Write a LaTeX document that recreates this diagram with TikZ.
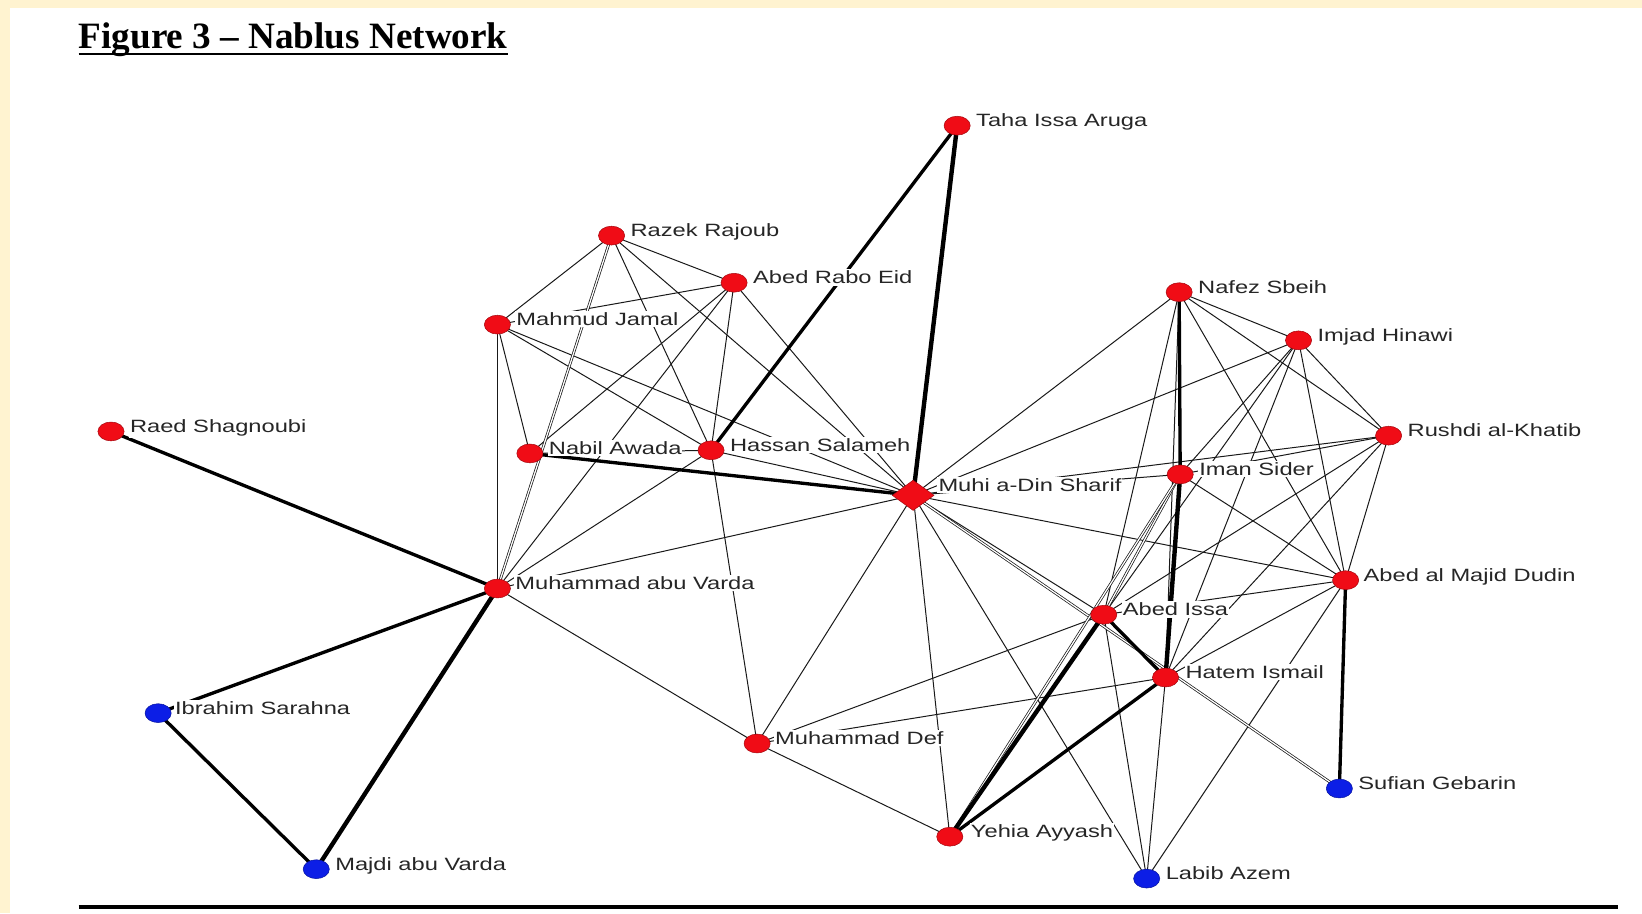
\documentclass[tikz,border=0pt]{standalone}
\usepackage{fontspec}
\setmainfont{Liberation Serif}
\newfontfamily\labfont[FakeStretch=1.33]{Liberation Sans}
\usetikzlibrary{shapes.geometric}
\pgfdeclarelayer{bglayer}
\pgfdeclarelayer{edgelayer}
\pgfsetlayers{bglayer,edgelayer,main}
\definecolor{cream}{RGB}{255,243,208}
\definecolor{nodered}{RGB}{240,12,22}
\definecolor{nodeblue}{RGB}{12,30,230}
\begin{document}
\begin{tikzpicture}[x=1pt,y=-1pt,
  rnode/.style={ellipse,fill=nodered,draw=nodered!70!black,line width=0.5pt,minimum width=25pt,minimum height=18pt,inner sep=0pt},
  bnode/.style={rnode,fill=nodeblue,draw=nodeblue!70!black},
  dnode/.style={diamond,fill=nodered,draw=nodered!70!black,line width=0.5pt,minimum width=40pt,minimum height=29pt,inner sep=0pt},
  lab/.style={anchor=base west,fill=white,inner xsep=1pt,inner ysep=1.5pt,font=\labfont\fontsize{17}{17}\selectfont,text=black!85},
  eone/.style={draw=black!90,line width=0.95pt},
  ethree/.style={draw=black,line width=3.2pt},
  efour/.style={draw=black,line width=4.2pt},
  edbl/.style={draw=black!90,line width=0.7pt,double=white,double distance=1.2pt},
]
\useasboundingbox (0,0) rectangle (1568,872);
\begin{pgfonlayer}{bglayer}
\fill[cream] (0,0) rectangle (1568,872);
\fill[white] (10,8) rectangle (1568,872);
\end{pgfonlayer}

% title
\node[anchor=base west,font=\bfseries\fontsize{35.5}{35.5}\selectfont,inner sep=0pt] (title) at (75,46) {Figure 3 – Nablus Network};
\draw[line width=2.4pt] ([yshift=-5.5pt]title.base west) -- ([yshift=-5.5pt]title.base east);

% bottom rule
\coordinate (ruleL) at (75,866);
\coordinate (ruleR) at (1545,866);
\draw[line width=4pt] (ruleL) -- (ruleR);

% nodes
\node[rnode] (TA) at (914,120) {};
\node[rnode] (RR) at (584,225) {};
\node[rnode] (AR) at (701,270) {};
\node[rnode] (MJ) at (475,310) {};
\node[rnode] (NS) at (1126,279) {};
\node[rnode] (IH) at (1240,325) {};
\node[rnode] (RK) at (1326,416) {};
\node[rnode] (RS) at (106,412) {};
\node[rnode] (NA) at (506,433) {};
\node[rnode] (HS) at (679,430) {};
\node[dnode] (MS) at (872,473) {};
\node[rnode] (IS) at (1127,453) {};
\node[rnode] (AD) at (1285,554) {};
\node[rnode] (MV) at (475,562) {};
\node[rnode] (AI) at (1054,587) {};
\node[rnode] (HI) at (1113,647) {};
\node[bnode] (IB) at (151,681) {};
\node[rnode] (MD) at (723,710) {};
\node[bnode] (SG) at (1279,753) {};
\node[rnode] (YA) at (907,799) {};
\node[bnode] (MA) at (302,830) {};
\node[bnode] (LA) at (1095,839) {};

% labels
\node[lab] (lTA) at (931,121) {Taha Issa Aruga};
\node[lab] (lRR) at (601,226) {Razek Rajoub};
\node[lab] (lAR) at (718,271) {Abed Rabo Eid};
\node[lab] (lMJ) at (492,311) {Mahmud Jamal};
\node[lab] (lNS) at (1143,280) {Nafez Sbeih};
\node[lab] (lIH) at (1257,326) {Imjad Hinawi};
\node[lab] (lRK) at (1343,417) {Rushdi al-Khatib};
\node[lab] (lRS) at (123,413) {Raed Shagnoubi};
\node[lab] (lNA) at (523,434) {Nabil Awada};
\node[lab] (lHS) at (696,431) {Hassan Salameh};
\node[lab] (lMS) at (895,469) {Muhi a-Din Sharif};
\node[lab] (lIS) at (1144,454) {Iman Sider};
\node[lab] (lAD) at (1301,555) {Abed al Majid Dudin};
\node[lab] (lMV) at (491,563) {Muhammad abu Varda};
\node[lab] (lAI) at (1071,588) {Abed Issa};
\node[lab] (lHI) at (1131,648) {Hatem Ismail};
\node[lab] (lIB) at (166,682) {Ibrahim Sarahna};
\node[lab] (lMD) at (739,711) {Muhammad Def};
\node[lab] (lSG) at (1296,754) {Sufian Gebarin};
\node[lab] (lYA) at (926,800) {Yehia Ayyash};
\node[lab] (lMA) at (319,831) {Majdi abu Varda};
\node[lab] (lLA) at (1112,840) {Labib Azem};

\begin{pgfonlayer}{edgelayer}
% thin ties
\foreach \a/\b in {RR/MJ,RR/AR,RR/HS,RR/MS,
  AR/MJ,AR/NA,AR/MV,AR/HS,AR/MS,
  MJ/NA,MJ/MV,MJ/HS,MJ/MS,
  NA/HS,
  HS/MS,HS/MV,HS/MD,
  MS/MV,MS/MD,MS/YA,MS/NS,MS/IH,MS/RK,MS/IS,MS/AD,MS/AI,MS/LA,
  MV/MD,
  MD/YA,MD/AI,MD/HI,
  NS/IH,NS/RK,NS/AD,NS/AI,NS/HI,
  IH/RK,IH/AD,IH/IS,IH/AI,IH/HI,
  RK/AD,RK/IS,RK/AI,RK/HI,
  IS/AD,
  AD/AI,AD/HI,AD/LA,
  AI/LA,HI/LA}
  \draw[eone] (\a.center) -- (\b.center);
% double ties
\foreach \a/\b in {RR/MV,MS/SG,IS/AI,IS/YA}
  \draw[edbl] (\a.center) -- (\b.center);
% thick ties
\foreach \a/\b in {TA/HS,RS/MV,IB/MV,IB/MA,NA/MS,NS/IS,HI/YA,AD/SG,AI/HI}
  \draw[ethree] (\a.center) -- (\b.center);
% very thick ties
\foreach \a/\b in {TA/MS,MA/MV,IS/HI,AI/YA}
  \draw[efour] (\a.center) -- (\b.center);
\end{pgfonlayer}
\end{tikzpicture}
\end{document}
